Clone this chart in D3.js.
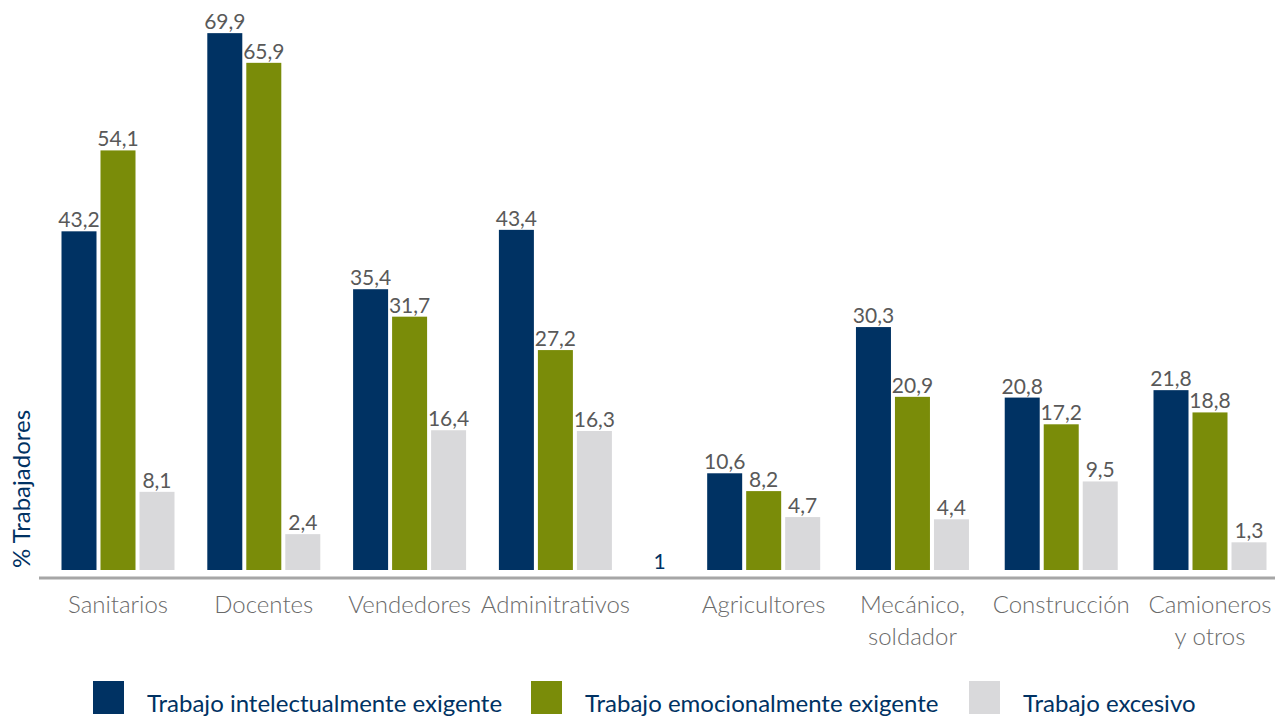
<!DOCTYPE html>
<html>
<head>
<meta charset="utf-8">
<script src="https://cdn.jsdelivr.net/npm/d3@7"></script>
<style>
  body { margin: 0; background: #fff; }
  svg { font-family: "Lato", "Open Sans", sans-serif; }
</style>
</head>
<body>
<script>
// data
var categories = ["Sanitarios", "Docentes", "Vendedores", "Adminitrativos",
    "Agricultores", "Mecánico,\nsoldador", "Construcción", "Camioneros\ny otros"];
var series = ["Trabajo intelectualmente exigente", "Trabajo emocionalmente exigente", "Trabajo excesivo"];
var intelectual = [43.2, 69.9, 35.4, 43.4, 10.6, 30.3, 20.8, 21.8];
var emocional = [54.1, 65.9, 31.7, 27.2, 8.2, 20.9, 17.2, 18.8];
var excesivo = [8.1, 2.4, 16.4, 16.3, 4.7, 4.4, 9.5, 1.3];
var colors = ["#003263", "#7a8c09", "#d9d9db"];

var w = 1283;
var h = 717;
var barW = 35;
var barGap = 4;

// extra gap between Adminitrativos and Agricultores, first groups a bit tighter
var slot = categories.map((d, i) => i < 4 ? i * 0.98 : i + 0.34);

var xScale = d3.scaleLinear()
    .domain([0, 7.34])
    .range([118, 1210]);

var yScale = d3.scaleLinear()
    .domain([-2.43, 70])
    .range([570, 32.4]);

var svg = d3.select("body")
    .append("svg")
    .attr("width", w)
    .attr("height", h);

var values = [intelectual, emocional, excesivo];

var groups = svg.selectAll("g.grp")
    .data(categories)
    .enter()
    .append("g")
    .attr("class", "grp")
    .attr("transform", (d, i) => "translate(" + xScale(slot[i]) + ",0)");

values.forEach(function (vals, s) {
    var off = (s - 1) * (barW + barGap) - barW / 2;
    groups.append("rect")
        .attr("x", off)
        .attr("y", (d, i) => yScale(vals[i]))
        .attr("width", barW)
        .attr("height", (d, i) => yScale(-2.43) - yScale(vals[i]))
        .attr("fill", colors[s]);

    groups.append("text")
        .attr("x", off + barW / 2)
        .attr("y", (d, i) => yScale(vals[i]) - 4)
        .attr("text-anchor", "middle")
        .attr("font-size", "21px")
        .attr("fill", "#595959")
        .text((d, i) => String(vals[i]).replace(".", ","));
});

// stray "1" in the gap
svg.append("text")
    .attr("x", (xScale(slot[3]) + xScale(slot[4])) / 2)
    .attr("y", 569)
    .attr("text-anchor", "middle")
    .attr("font-size", "21px")
    .attr("fill", "#003263")
    .text("1");

// baseline
svg.append("line")
    .attr("x1", 39).attr("x2", 1275)
    .attr("y1", 578).attr("y2", 578)
    .attr("stroke", "#a6a6a6")
    .attr("stroke-width", 3);

// category labels
groups.append("text")
    .attr("text-anchor", "middle")
    .attr("font-size", "24px")
    .attr("font-weight", 300)
    .attr("fill", "#6a6a6a")
    .selectAll("tspan")
    .data(d => d.split("\n"))
    .enter()
    .append("tspan")
    .attr("x", 0)
    .attr("y", (d, i) => 613 + i * 32)
    .text(d => d);

// y title
svg.append("text")
    .attr("transform", "translate(30,489) rotate(-90)")
    .attr("text-anchor", "middle")
    .attr("font-size", "24px")
    .attr("fill", "#003263")
    .text("% Trabajadores");

// legend
var legX = [93, 531, 969];
var legend = svg.selectAll("g.leg")
    .data(series)
    .enter()
    .append("g")
    .attr("class", "leg")
    .attr("transform", (d, i) => "translate(" + legX[i] + ",681)");

legend.append("rect")
    .attr("width", 31)
    .attr("height", 33)
    .attr("fill", (d, i) => colors[i]);

legend.append("text")
    .attr("x", 54)
    .attr("y", 31)
    .attr("font-size", "24px")
    .attr("fill", "#003263")
    .text(d => d);
</script>
</body>
</html>
